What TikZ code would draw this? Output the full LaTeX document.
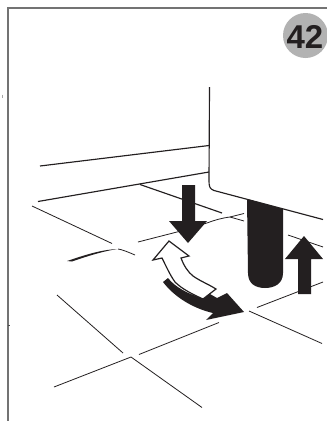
\documentclass[tikz,border=0pt]{standalone}
\usepackage{fontspec}
\setmainfont{Liberation Sans}
\definecolor{ink}{HTML}{231F20}
\tikzset{
  thinl/.style={draw=ink,line width=0.8pt},
  medl/.style={draw=ink,line width=1.15pt},
  solidink/.style={fill=ink,draw=none},
}
\begin{document}
\begin{tikzpicture}[x=1pt,y=-1pt]
\useasboundingbox (0,0) rectangle (327,421);
\fill[white] (0,0) rectangle (327,421);
% frame
\draw[draw=black!55,line width=1.2pt] (8,421) -- (8,8) -- (327,8);
\draw[draw=black!35,line width=0.5pt] (2.5,94.5) -- (2.5,97.5);
\draw[draw=black!70,line width=0.5pt] (8,325.5) -- (10,325.5);
% badge
\clip (0,0) rectangle (327,421);
\node[circle,fill=black!30,minimum size=45pt,inner sep=0pt] (badge) at (305.5,35.5) {};
\node[text=ink,font=\bfseries\fontsize{33}{33}\selectfont,inner sep=0pt] (num) at (305,36.5) {42};
% cabinet
\draw[medl,line join=round] (209.5,87) -- (209,181) .. controls (209,187) and (210,189) .. (214,190.5) -- (323,219.5);
\draw[medl] (40,166) -- (209,145.5);
\draw[medl] (38,201.5) -- (209,172);
\draw[medl] (140,184.5) -- (222,213);
% floor lines
\draw[thinl] (32,206) -- (112,243.5);
\draw[thinl] (118,249) .. controls (122,249.5) and (128,252) .. (135,255);
\fill[ink] (67,261) .. controls (85,255) and (100,250) .. (117,249) .. controls (100,252) and (85,257) .. (72,261.5) -- cycle;
\draw[thinl] (138,242) -- (177,232) -- (207,223) .. controls (215,220) and (222,218) .. (230,217) -- (244,213.5);
\draw[thinl] (230,217) -- (244,221);
\draw[thinl] (288,235) -- (323,247);
\draw[thinl] (257,307.5) -- (323,282);
\draw[thinl] (249,311) -- (322,343.5);
\draw[thinl] (139,354.5) -- (219,322.5);
\draw[thinl] (54,387) -- (131,357) -- (202,407.5);
\draw[thinl] (57,295) -- (123,353);
% foot
\fill[ink] (247,199) -- (283,209) -- (283,273) .. controls (283,284) and (274,288) .. (265,288) .. controls (256,288) and (248,284) .. (248,273) -- cycle;
% up and down arrows
\fill[ink] (182,185) -- (195,185) -- (195,221) -- (207,221) -- (188,243) -- (169,221) -- (182,221) -- cycle;
\fill[ink] (298,294) -- (311,294) -- (311,259) -- (323,259) -- (304,236) -- (285,259) -- (298,259) -- cycle;
% black curved arrow
\fill[ink] (163,282) -- (168,278) .. controls (175,287) and (188,294) .. (202,298) -- (210,294) -- (217,298) -- (227,293) -- (244,312) -- (206,320) -- (213,313) .. controls (195,309) and (175,298) .. (163,282) -- cycle;
% white curved arrow
\draw[draw=ink,fill=white,line width=1.2pt,line join=miter] (169,241) -- (189,256) -- (181,258) .. controls (184,266) and (188,272) .. (193,276) .. controls (200,281) and (208,284) .. (216,289) -- (203,299) .. controls (192,294) and (182,289) .. (175,282) .. controls (170,275) and (166,266) .. (162,258) -- (153,260) -- cycle;
\end{tikzpicture}
\end{document}
